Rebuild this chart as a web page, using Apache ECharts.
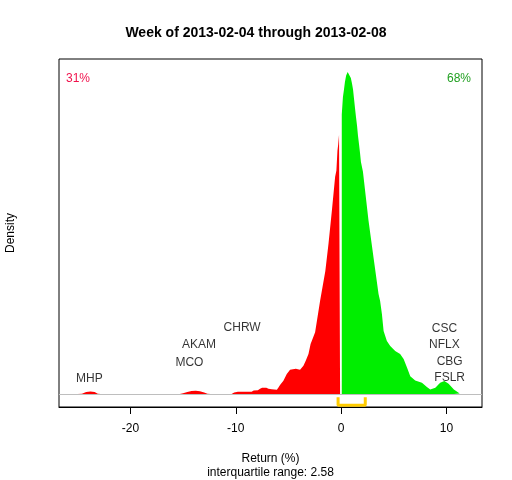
<!DOCTYPE html>
<html>
<head>
<meta charset="utf-8">
<script src="https://cdn.jsdelivr.net/npm/echarts@6/dist/echarts.min.js"></script>
<style>
  html, body { margin: 0; padding: 0; background: #fff; }
  #main { width: 512px; height: 480px; }
</style>
</head>
<body>
<div id="main"></div>
<script>
// density of weekly returns, left of zero (losers)
var redX = [-25.0, -24.6, -24.2, -23.8, -23.4, -23.1, -22.8,
  -15.3, -15.0, -14.6, -14.2, -13.8, -13.4, -13.0, -12.7, -12.4,
  -10.4, -10.15, -9.8, -9.0, -8.5, -8.3, -7.9, -7.7, -7.5, -7.1, -6.9, -6.6, -6.1,
  -5.95, -5.8, -5.48, -5.16, -4.85, -4.7, -4.3, -3.9, -3.58, -3.36, -3.1, -2.9, -2.78,
  -2.47, -2.0, -1.5, -1.2, -0.88, -0.57, -0.45, -0.35, -0.28, -0.2, -0.1];
var redY = [0, 0.0002, 0.0015, 0.0019, 0.0015, 0.0002, 0,
  0, 0.0006, 0.0016, 0.0022, 0.0024, 0.0020, 0.0011, 0.0002, 0,
  0, 0.0011, 0.0017, 0.0017, 0.0018, 0.0026, 0.0028, 0.0039, 0.0046, 0.0046, 0.0039, 0.0035, 0.0031,
  0.0048, 0.0066, 0.0097, 0.0146, 0.0177, 0.0185, 0.0185, 0.0177, 0.0207, 0.0243, 0.0292, 0.0365, 0.0389,
  0.0450, 0.0679, 0.0898, 0.1095, 0.1336, 0.1584, 0.1630, 0.1774, 0.1818, 0.1890, 0.1895];

// density right of zero (winners)
var greenX = [0.06, 0.17, 0.27, 0.36, 0.475, 0.62, 0.78, 0.92, 1.03, 1.13, 1.22, 1.32, 1.41,
  1.51, 1.6, 1.7, 1.79, 1.88, 2.07, 2.6, 3.07, 3.55, 3.7, 3.87, 4.03, 4.34, 4.66, 5.13,
  5.6, 5.93, 6.25, 6.56, 7.03, 7.67, 8.14, 8.46, 8.94, 9.4, 9.8, 10.2, 10.7, 11.25, 11.4];
var greenY = [0.2037, 0.2165, 0.2219, 0.2275, 0.2321, 0.2348, 0.2336, 0.2304, 0.2263, 0.2219, 0.2154, 0.2081, 0.2019,
  0.1956, 0.1883, 0.1818, 0.1759, 0.1691, 0.1621, 0.1263, 0.0997, 0.0730, 0.0679, 0.0584, 0.0460, 0.0387, 0.0350, 0.0314,
  0.0292, 0.0256, 0.0194, 0.0131, 0.0100, 0.0082, 0.0051, 0.0034, 0.0046, 0.0082, 0.0095, 0.0075, 0.0034, 0.0005, 0];

var tickValues = [-20, -10, 0, 10];

// outlier tickers
var tickerNames = ['MHP', 'MCO', 'AKAM', 'CHRW', 'CSC', 'NFLX', 'CBG', 'FSLR'];
var tickerX = [-23.9, -14.4, -13.5, -9.4, 9.8, 9.8, 10.3, 10.3];
var tickerY = [0.0114, 0.0231, 0.0358, 0.0482, 0.0479, 0.0358, 0.0234, 0.0117];

var iqrLow = -0.29;
var iqrHigh = 2.29;
var iqrBottom = -0.0082;
var iqrTop = -0.0023;

var pctDown = '31%';
var pctUp = '68%';

var peak = 0.2348;

function pairs(xs, ys) {
  return xs.map(function (x, i) { return [x, ys[i]]; });
}

var myChart = echarts.init(document.getElementById('main'));
var font = 'Liberation Sans, Arial, sans-serif';

myChart.setOption({
  animation: false,
  backgroundColor: '#fff',
  textStyle: { fontFamily: font },
  title: {
    text: 'Week of 2013-02-04 through 2013-02-08',
    left: 'center',
    top: 21,
    textStyle: { fontSize: 14, fontWeight: 'bold', color: '#000', fontFamily: font }
  },
  grid: {
    left: 59, right: 30, top: 59, bottom: 73,
    show: true, borderColor: '#000', borderWidth: 1,
    containLabel: false,
    outerBoundsMode: 'none'
  },
  graphic: [
    { type: 'text', left: 66, top: 73, style: { text: pctDown, fill: '#f0124c', font: '12px ' + font } },
    { type: 'text', right: 41, top: 73, style: { text: pctUp, fill: '#22a022', font: '12px ' + font } }
  ],
  xAxis: {
    type: 'value',
    min: -26.78,
    max: 13.37,
    name: 'Return (%)\ninterquartile range: 2.58',
    nameLocation: 'middle',
    nameGap: 45,
    nameTextStyle: { fontSize: 12, color: '#000', lineHeight: 14, fontFamily: font },
    axisLine: { show: true, onZero: false, lineStyle: { color: '#000', width: 1 } },
    axisTick: { show: true, length: 7, customValues: tickValues, lineStyle: { color: '#000' } },
    axisLabel: { customValues: tickValues, fontSize: 12, color: '#000', margin: 16, fontFamily: font },
    splitLine: { show: false }
  },
  yAxis: {
    type: 'value',
    min: -0.04 * peak,
    max: 1.04 * peak,
    name: 'Density',
    nameLocation: 'middle',
    nameGap: 42,
    nameTextStyle: { fontSize: 12, color: '#000', fontFamily: font },
    axisLine: { show: false },
    axisTick: { show: false },
    axisLabel: { show: false },
    splitLine: { show: false }
  },
  series: [
    {
      type: 'line',
      data: pairs(redX, redY),
      showSymbol: false,
      lineStyle: { width: 0 },
      areaStyle: { color: '#ff0000', opacity: 1 },
      silent: true,
      markLine: {
        silent: true,
        symbol: 'none',
        label: { show: false },
        lineStyle: { color: '#bebebe', width: 1, type: 'solid' },
        data: [{ yAxis: 0 }]
      }
    },
    {
      type: 'line',
      data: pairs(greenX, greenY),
      showSymbol: false,
      lineStyle: { width: 0 },
      areaStyle: { color: '#00ee00', opacity: 1 },
      silent: true
    },
    {
      type: 'line',
      data: [[iqrLow, iqrTop], [iqrLow, iqrBottom], [iqrHigh, iqrBottom], [iqrHigh, iqrTop]],
      showSymbol: false,
      lineStyle: { color: '#ffcc00', width: 3 },
      silent: true
    },
    {
      type: 'scatter',
      symbolSize: 0,
      data: tickerNames.map(function (n, i) { return { name: n, value: [tickerX[i], tickerY[i]] }; }),
      label: {
        show: true,
        position: 'inside',
        formatter: '{b}',
        fontSize: 12,
        color: '#000',
        fontFamily: font
      },
      silent: true
    }
  ]
});
</script>
</body>
</html>
